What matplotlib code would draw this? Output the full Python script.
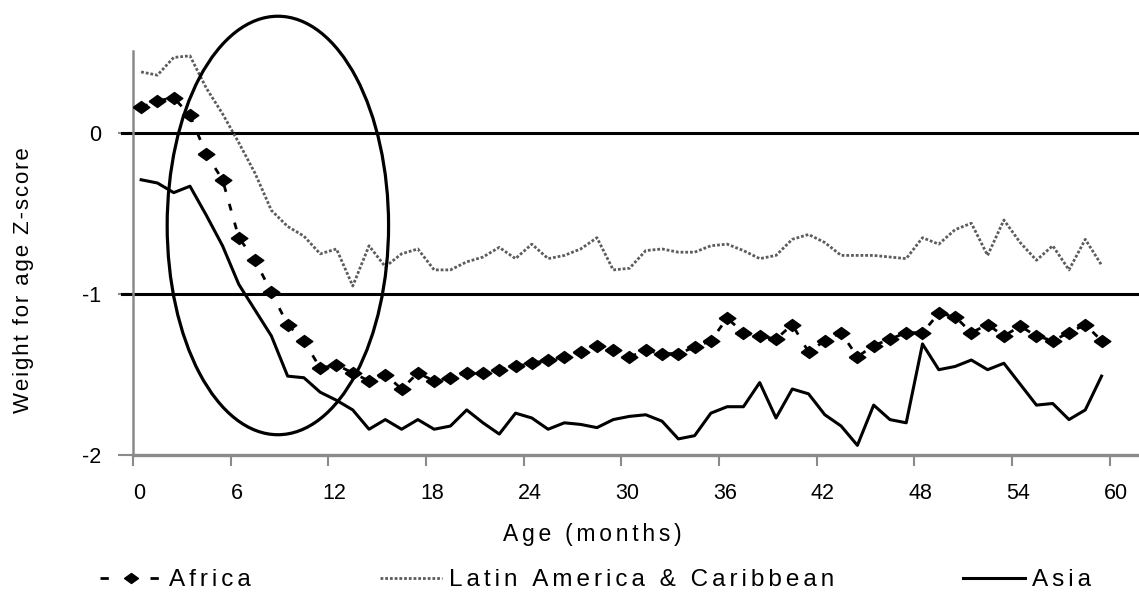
import numpy as np
import matplotlib
matplotlib.use("Agg")
import matplotlib.pyplot as plt
import matplotlib.transforms as mtransforms
from matplotlib.lines import Line2D
from matplotlib.patches import Ellipse

plt.rcParams["font.family"] = ["Liberation Sans", "DejaVu Sans"]
plt.rcParams["axes.unicode_minus"] = False

# ---------------------------------------------------------------------------
# Data: mean weight-for-age Z-score by month of age
# ---------------------------------------------------------------------------
AGES = np.arange(0.5, 60.0, 1.0)   # monthly age bins (mid-points)

AFRICA = [
    0.16, 0.20, 0.22, 0.11, -0.13, -0.29, -0.65, -0.79, -0.99, -1.19,
    -1.29, -1.46, -1.44, -1.49, -1.54, -1.50, -1.59, -1.49, -1.54, -1.52,
    -1.49, -1.49, -1.47, -1.45, -1.43, -1.41, -1.39, -1.36, -1.32, -1.35,
    -1.39, -1.35, -1.37, -1.37, -1.33, -1.29, -1.15, -1.24, -1.26, -1.28,
    -1.19, -1.36, -1.29, -1.24, -1.39, -1.32, -1.28, -1.24, -1.24, -1.12,
    -1.14, -1.24, -1.19, -1.26, -1.20, -1.26, -1.29, -1.24, -1.19, -1.29,
]

LATIN_AMERICA = [
    0.38, 0.36, 0.47, 0.48, 0.28, 0.12, -0.06, -0.25, -0.48, -0.58,
    -0.64, -0.75, -0.72, -0.95, -0.70, -0.83, -0.75, -0.72, -0.85, -0.85,
    -0.80, -0.77, -0.71, -0.78, -0.69, -0.78, -0.76, -0.72, -0.65, -0.85,
    -0.84, -0.73, -0.72, -0.74, -0.74, -0.70, -0.69, -0.73, -0.78, -0.76,
    -0.66, -0.63, -0.68, -0.76, -0.76, -0.76, -0.77, -0.78, -0.65, -0.69,
    -0.60, -0.56, -0.76, -0.54, -0.68, -0.79, -0.70, -0.85, -0.66, -0.82,
]

ASIA = [
    -0.29, -0.31, -0.37, -0.33, -0.51, -0.70, -0.94, -1.10, -1.26, -1.51,
    -1.52, -1.61, -1.66, -1.72, -1.84, -1.78, -1.84, -1.78, -1.84, -1.82,
    -1.72, -1.80, -1.87, -1.74, -1.77, -1.84, -1.80, -1.81, -1.83, -1.78,
    -1.76, -1.75, -1.79, -1.90, -1.88, -1.74, -1.70, -1.70, -1.55, -1.77,
    -1.59, -1.62, -1.75, -1.82, -1.94, -1.69, -1.78, -1.80, -1.31, -1.47,
    -1.45, -1.41, -1.47, -1.43, -1.56, -1.69, -1.68, -1.78, -1.72, -1.51,
]

X_TICKS = [0, 6, 12, 18, 24, 30, 36, 42, 48, 54, 60]
Y_TICKS = [0, -1, -2]
REF_LINES = [0, -1]

# highlighted region (ellipse): centre, width, height in data units
HIGHLIGHT = dict(xy=(8.9, -0.574), width=13.6, height=2.60)

AXIS_GREY = "#8a8a8a"
LATIN_GREY = "#5c5c5c"


def tracked(text, gap="\u2009"):
    """Mimic the loose letter spacing of the original figure."""
    return gap.join(text)


fig = plt.figure(figsize=(11.39, 5.94), dpi=100)
ax = fig.add_axes([133 / 1139, 1 - 455 / 594, 1006 / 1139, 404 / 594])

# flattened diamond marker like the spreadsheet one
diamond = [(-1, 0), (0, 0.72), (1, 0), (0, -0.72), (-1, 0)]

ax.plot(AGES, AFRICA, color="black", lw=2.0, ls=(0, (2.5, 4.5)),
        marker=diamond, ms=12, zorder=4)
ax.plot(AGES, LATIN_AMERICA, color=LATIN_GREY, lw=2.0, ls=(0, (1.0, 0.7)),
        zorder=3)
ax.plot(AGES, ASIA, color="black", lw=2.2, zorder=4)

for y in REF_LINES:
    ax.axhline(y, xmin=-0.011, xmax=1, color="black", lw=2.2,
               clip_on=False, zorder=2)

ax.add_patch(Ellipse(HIGHLIGHT["xy"], HIGHLIGHT["width"], HIGHLIGHT["height"],
                     fill=False, ec="black", lw=2.3, clip_on=False, zorder=5))

ax.set_xlim(0, 61.8)
ax.set_ylim(-2, 0.51)

for side in ("top", "right"):
    ax.spines[side].set_visible(False)
ax.spines["bottom"].set_color(AXIS_GREY)
ax.spines["bottom"].set_linewidth(2.4)
ax.spines["left"].set_color(AXIS_GREY)
ax.spines["left"].set_linewidth(1.8)

ax.set_xticks(X_TICKS)
ax.set_yticks(Y_TICKS)
ax.tick_params(axis="x", direction="out", length=8, width=1.5,
               color=AXIS_GREY, pad=12, labelsize=15.5)
ax.tick_params(axis="y", direction="out", length=11, width=1.5,
               color=AXIS_GREY, pad=12, labelsize=15.5)

# x tick labels sit slightly right of their ticks in the original
shift = mtransforms.ScaledTranslation(6 / 100, 0, fig.dpi_scale_trans)
for lbl in ax.get_xticklabels():
    lbl.set_transform(lbl.get_transform() + shift)

ax.set_xlabel(tracked("Age (months)", "\u2006"), fontsize=16.5, va="center")
ax.xaxis.set_label_coords((592 - 133) / 1006, (455 - 535) / 404)
ax.set_ylabel(tracked("Weight for age Z-score", "\u200a"), fontsize=16, va="center")
ax.yaxis.set_label_coords((24 - 133) / 1006, (455 - 280) / 404)

# legend proxies: "- ◆ -" for Africa needs its own dash rhythm
handles = [
    Line2D([], [], color="black", lw=2.0, ls=(0, (3.0, 15.0)),
           marker=diamond, ms=10),
    Line2D([], [], color=LATIN_GREY, lw=2.0, ls=(0, (1.0, 0.7))),
    Line2D([], [], color="black", lw=2.2),
]
labels = [tracked("Africa", "\u2006"),
          tracked("Latin America & Caribbean", "\u2006"),
          tracked("Asia", "\u2006")]

fig.legend(handles, labels, loc="center left",
           bbox_to_anchor=(100 / 1139, 1 - 580 / 594),
           ncol=3, frameon=False, fontsize=17.5, handlelength=2.55,
           handletextpad=0.3, columnspacing=5.3, borderpad=0,
           borderaxespad=0, numpoints=1)

fig.savefig("out.png", dpi=100)
